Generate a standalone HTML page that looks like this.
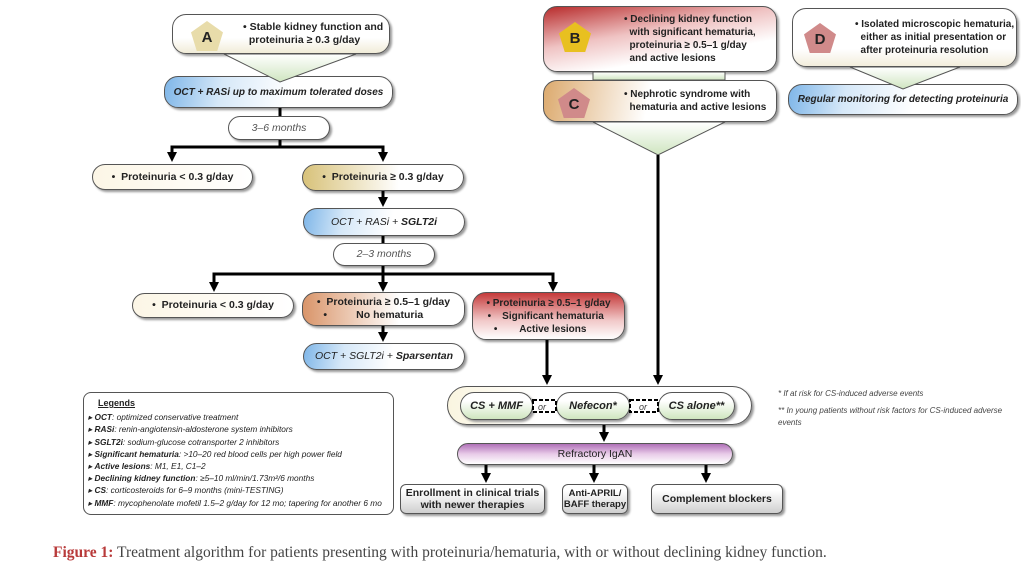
<!DOCTYPE html>
<html><head><meta charset="utf-8"><style>
body{margin:0;width:1021px;height:576px;background:#fff;position:relative;overflow:hidden;font-family:"Liberation Sans",sans-serif;color:#222}
.b{position:absolute;border:1.5px solid #555;border-radius:14px;box-shadow:2px 2px 2px #999;box-sizing:border-box;display:flex;align-items:center;justify-content:center;text-align:center;font-size:10.5px;line-height:13px;background:#fff}
.i{font-style:italic}
.blue{background:linear-gradient(100deg,#7fb6e8 0%,#d6e8f8 25%,#fff 55%)}
.grn{background:linear-gradient(180deg,#fff 30%,#cfe6bf 100%);border-radius:16px}
.gray{background:linear-gradient(180deg,#fff 20%,#cfcfcf 100%);border-radius:6px;font-weight:bold;font-size:10.5px;line-height:12px}
svg{position:absolute;left:0;top:0}
.pent{position:absolute;width:32px;height:30px;clip-path:polygon(50% 0,100% 38%,82% 100%,18% 100%,0 38%);display:flex;align-items:center;justify-content:center;font-weight:bold;font-size:15px;padding-top:3px;box-sizing:border-box}
.l{text-align:left;justify-content:flex-start}
</style></head><body>

<div class="b" style="left:172px;top:14px;width:218px;height:40px;background:linear-gradient(180deg,#fff 60%,#f1ecd8);padding-left:70px;justify-content:flex-start;text-align:left;font-weight:bold">• Stable kidney function and<br>&nbsp;&nbsp;proteinuria ≥ 0.3 g/day</div>
<div class="pent" style="left:191px;top:21px;background:#e8dcaa">A</div>
<div class="b blue i" style="left:164px;top:76px;width:229px;height:32px;font-weight:bold;font-size:10px">OCT + RASi up to maximum tolerated doses</div>
<div class="b i" style="left:228px;top:116px;width:102px;height:24px;color:#555">3–6 months</div>
<div class="b" style="left:92px;top:164px;width:161px;height:26px;font-weight:bold;background:linear-gradient(90deg,#fcf6e6,#fff)">• &nbsp;Proteinuria &lt; 0.3 g/day</div>
<div class="b" style="left:302px;top:164px;width:162px;height:27px;font-weight:bold;background:linear-gradient(90deg,#d8c27a,#fff 60%)">• &nbsp;Proteinuria ≥ 0.3 g/day</div>
<div class="b blue i" style="left:303px;top:208px;width:162px;height:28px">OCT + RASi + <b>&nbsp;SGLT2i</b></div>
<div class="b i" style="left:333px;top:243px;width:102px;height:23px;color:#555">2–3 months</div>
<div class="b" style="left:132px;top:293px;width:162px;height:25px;font-weight:bold;background:linear-gradient(90deg,#fcf6e6,#fff)">• &nbsp;Proteinuria &lt; 0.3 g/day</div>
<div class="b" style="left:302px;top:292px;width:163px;height:34px;font-weight:bold;background:linear-gradient(90deg,#d9956a,#fff 60%)">•&nbsp; Proteinuria ≥ 0.5–1 g/day<br>•&nbsp;&nbsp;&nbsp;&nbsp;&nbsp;&nbsp;&nbsp;&nbsp;&nbsp; No hematuria&nbsp;&nbsp;&nbsp;&nbsp;&nbsp;&nbsp;&nbsp;</div>
<div class="b" style="left:472px;top:292px;width:153px;height:48px;font-weight:bold;font-size:10px;background:linear-gradient(180deg,#c53a3a,#f1c9c9 60%,#fff)">• Proteinuria ≥ 0.5–1 g/day<br>•&nbsp;&nbsp;&nbsp; Significant hematuria&nbsp;&nbsp;<br>•&nbsp;&nbsp;&nbsp;&nbsp;&nbsp;&nbsp;&nbsp; Active lesions&nbsp;&nbsp;&nbsp;&nbsp;&nbsp;&nbsp;</div>
<div class="b blue i" style="left:303px;top:343px;width:162px;height:27px">OCT + SGLT2i +&nbsp;<b>Sparsentan</b></div>

<div class="b l" style="left:543px;top:6px;width:234px;height:66px;font-weight:bold;font-size:10px;background:linear-gradient(170deg,#b82c2c,#efc3c3 40%,#fff 70%);padding-left:80px;text-align:left">• Declining kidney function<br>&nbsp;&nbsp;with significant hematuria,<br>&nbsp;&nbsp;proteinuria ≥ 0.5–1 g/day<br>&nbsp;&nbsp;and active lesions</div>
<div class="pent" style="left:559px;top:22px;background:#e8c020;border:0">B</div>
<div class="b l" style="left:543px;top:80px;width:234px;height:42px;font-weight:bold;font-size:10px;background:linear-gradient(100deg,#dcaa6e,#fff 45%);padding-left:80px;text-align:left">• Nephrotic syndrome with<br>&nbsp;&nbsp;hematuria and active lesions</div>
<div class="pent" style="left:558px;top:88px;background:#d08a8a">C</div>
<div class="b l" style="left:792px;top:8px;width:225px;height:59px;font-weight:bold;font-size:10px;background:linear-gradient(180deg,#fff 70%,#f3eedc);padding-left:62px;text-align:left;white-space:nowrap">• Isolated microscopic hematuria,<br>&nbsp;&nbsp;either as initial presentation or<br>&nbsp;&nbsp;after proteinuria resolution</div>
<div class="pent" style="left:804px;top:23px;background:#d08a8a">D</div>
<div class="b blue i" style="left:788px;top:84px;width:230px;height:31px;font-weight:bold;font-size:10px">Regular monitoring for detecting proteinuria</div>

<div class="b" style="left:447px;top:386px;width:305px;height:39px;border-radius:20px;background:linear-gradient(90deg,#faf5e0,#fff 30%)"></div>
<div class="b grn i" style="left:460px;top:392px;width:73px;height:28px;font-weight:bold;font-size:11px">CS + MMF</div>
<div class="b grn i" style="left:556px;top:392px;width:74px;height:28px;font-weight:bold;font-size:11px">Nefecon*</div>
<div class="b grn i" style="left:658px;top:392px;width:77px;height:28px;font-weight:bold;font-size:11px">CS alone**</div>
<div style="position:absolute;left:778px;top:388px;font-size:8px;font-style:italic;color:#444;line-height:12px;width:230px">* If at risk for CS-induced adverse events<br><div style="height:5px"></div>** In young patients without risk factors for CS-induced adverse events</div>
<div class="b" style="left:457px;top:443px;width:276px;height:22px;border-radius:11px;background:linear-gradient(180deg,#b070b8,#e8cbe8 50%,#fff)">Refractory IgAN</div>
<div class="b gray" style="left:400px;top:484px;width:145px;height:30px">Enrollment in clinical trials<br>with newer therapies</div>
<div class="b gray" style="left:562px;top:484px;width:66px;height:30px;font-size:9.5px;line-height:11px">Anti-APRIL/<br>BAFF therapy</div>
<div class="b gray" style="left:651px;top:484px;width:132px;height:30px">Complement blockers</div>

<div class="b" style="left:83px;top:392px;width:311px;height:123px;border-radius:8px;display:block;text-align:left;font-size:8.3px;line-height:12.2px;padding:4px 4px;font-style:italic;box-shadow:none">
<div style="font-style:normal;font-weight:bold;text-decoration:underline;font-size:9px;margin-left:10px;margin-bottom:2px">Legends</div>
▸ <b>OCT</b>: optimized conservative treatment<br>
▸ <b>RASi</b>: renin-angiotensin-aldosterone system inhibitors<br>
▸ <b>SGLT2i</b>: sodium-glucose cotransporter 2 inhibitors<br>
▸ <b>Significant hematuria</b>: &gt;10–20 red blood cells per high power field<br>
▸ <b>Active lesions</b>: M1, E1, C1–2<br>
▸ <b>Declining kidney function</b>: ≥5–10 ml/min/1.73m²/6 months<br>
▸ <b>CS</b>: corticosteroids for 6–9 months (mini-TESTING)<br>
▸ <b>MMF</b>: mycophenolate mofetil 1.5–2 g/day for 12 mo; tapering for another 6 mo</div>

<svg width="1021" height="576">
<defs><marker id="a" markerUnits="userSpaceOnUse" markerWidth="10" markerHeight="10" refX="3" refY="5" orient="auto"><path d="M0,0 L10,5 L0,10z" fill="#000"/></marker>
<linearGradient id="g" x1="0" y1="0" x2="0" y2="1"><stop offset="0" stop-color="#fff"/><stop offset="1" stop-color="#cfe5c0"/></linearGradient></defs>
<polygon points="224,54 356,54 280,82" fill="url(#g)" stroke="#555"/>
<polygon points="593,122 725,122 658,155" fill="url(#g)" stroke="#555"/>
<polygon points="850,67 960,67 903,89" fill="url(#g)" stroke="#555"/>
<polygon points="593,72 725,72 725,80 593,80" fill="url(#g)" stroke="#555"/>
<g stroke="#000" stroke-width="3" fill="none">
<line x1="280" y1="108" x2="280" y2="116"/>
<line x1="280" y1="140" x2="280" y2="147"/>
<polyline points="172,155 172,147 383,147 383,155" marker-end="url(#a)"/>
<line x1="172" y1="147" x2="172" y2="155" marker-end="url(#a)"/>
<line x1="383" y1="191" x2="383" y2="200" marker-end="url(#a)"/>
<line x1="383" y1="236" x2="383" y2="243"/>
<line x1="383" y1="266" x2="383" y2="285" marker-end="url(#a)"/>
<polyline points="214,285 214,274 553,274 553,285" marker-end="url(#a)"/>
<line x1="214" y1="274" x2="214" y2="285" marker-end="url(#a)"/>
<line x1="383" y1="326" x2="383" y2="335" marker-end="url(#a)"/>
<line x1="547" y1="340" x2="547" y2="378" marker-end="url(#a)"/>
<line x1="658" y1="155" x2="658" y2="378" marker-end="url(#a)"/>
<line x1="604" y1="425" x2="604" y2="435" marker-end="url(#a)"/>
<line x1="486" y1="465" x2="486" y2="476" marker-end="url(#a)"/>
<line x1="594" y1="465" x2="594" y2="476" marker-end="url(#a)"/>
<line x1="706" y1="465" x2="706" y2="476" marker-end="url(#a)"/>
</g>
<g stroke="#000" stroke-width="2" stroke-dasharray="4,2" fill="#fff">
<rect x="533" y="400" width="23" height="12"/><rect x="630" y="400" width="28" height="12"/>
</g>
<text x="538" y="410" font-size="9" font-style="italic" fill="#444" font-family="Liberation Sans">or</text>
<text x="639" y="410" font-size="9" font-style="italic" fill="#444" font-family="Liberation Sans">or</text>
</svg>

<div style="position:absolute;left:53px;top:544px;font-family:'Liberation Serif',serif;font-size:15.5px;color:#444"><b style="color:#b83a3a">Figure 1:</b> Treatment algorithm for patients presenting with proteinuria/hematuria, with or without declining kidney function.</div>
</body></html>
